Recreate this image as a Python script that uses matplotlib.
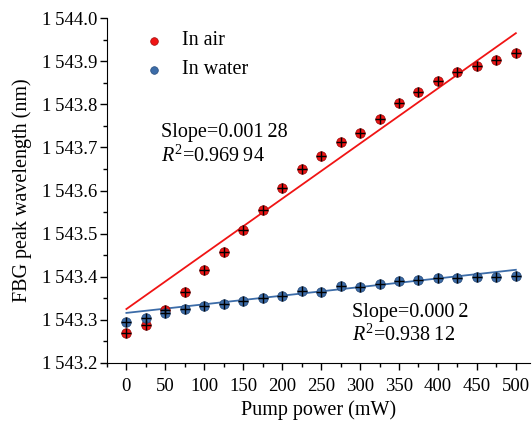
import numpy as np
import matplotlib
matplotlib.use("Agg")
import matplotlib.pyplot as plt
from matplotlib.ticker import MultipleLocator, FuncFormatter

plt.rcParams['font.family'] = ['Liberation Serif', 'DejaVu Serif']
plt.rcParams['mathtext.fontset'] = 'custom'
plt.rcParams['mathtext.it'] = 'Liberation Serif:italic'
plt.rcParams['mathtext.rm'] = 'Liberation Serif'

power = [0, 25, 50, 75, 100, 125, 150, 175, 200, 225, 250, 275, 300,
         325, 350, 375, 400, 425, 450, 475, 500]
air = [1543.269, 1543.287, 1543.323, 1543.364, 1543.416, 1543.458, 1543.508,
       1543.555, 1543.606, 1543.649, 1543.680, 1543.712, 1543.733, 1543.766,
       1543.802, 1543.828, 1543.855, 1543.874, 1543.889, 1543.903, 1543.918]
water = [1543.296, 1543.304, 1543.315, 1543.326, 1543.331, 1543.337, 1543.344,
         1543.350, 1543.356, 1543.367, 1543.365, 1543.378, 1543.377, 1543.383,
         1543.389, 1543.392, 1543.396, 1543.398, 1543.400, 1543.400, 1543.402]

# fitted lines as reported in the figure
air_slope, air_icpt = 0.00128, 1543.325
water_slope, water_icpt = 0.0002, 1543.316

red = '#f01414'
blue = '#3c6ca8'

fig = plt.figure(figsize=(5.32, 4.21), dpi=100)
ax = fig.add_axes([0.201, 0.138, 0.795, 0.819])

xfit = np.array([0, 500])
ax.plot(xfit, air_icpt + air_slope * xfit, color=red, lw=1.3, zorder=2)
ax.plot(xfit, water_icpt + water_slope * xfit, color=blue, lw=1.3, zorder=2)

ax.plot(power, air, 'o', color=red, ms=6.8, mec='#a00c0c', mew=0.6, zorder=3)
ax.plot(power, water, 'o', color=blue, ms=6.8, mec='#274c7c', mew=0.6, zorder=3)
ax.plot(power, air, '+', color='k', ms=6.5, mew=1.0, zorder=4)
ax.plot(power, water, '+', color='k', ms=6.5, mew=1.0, zorder=4)

# legend
ax.plot([35], [1543.948], 'o', color=red, ms=5.5, mec='#a00c0c', mew=0.5)
ax.plot([35], [1543.880], 'o', color=blue, ms=5.5, mec='#274c7c', mew=0.5)
ax.text(72, 1543.948, 'In air', fontsize=14.5, va='center')
ax.text(72, 1543.880, 'In water', fontsize=14.5, va='center')

ax.text(44, 1543.734, 'Slope=0.001\u200928', fontsize=14.5, va='center')
ax.text(44, 1543.680, '$R^2$=0.969\u200994', fontsize=14.5, va='center')
ax.text(289, 1543.318, 'Slope=0.000\u20092', fontsize=14.5, va='center')
ax.text(289, 1543.265, '$R^2$=0.938\u200912', fontsize=14.5, va='center')

ax.set_xlim(-25, 518)
ax.set_ylim(1543.2, 1544.0)
ax.xaxis.set_major_locator(MultipleLocator(50))
ax.xaxis.set_minor_locator(MultipleLocator(25))
ax.yaxis.set_major_locator(MultipleLocator(0.1))
ax.yaxis.set_minor_locator(MultipleLocator(0.05))
ax.yaxis.set_major_formatter(FuncFormatter(
    lambda v, p: '1\u2009' + '%.1f' % (v - 1000)))

ax.spines['top'].set_visible(False)
ax.spines['right'].set_visible(False)
ax.tick_params(axis='both', which='major', direction='out', length=5,
               labelsize=13.5, width=1)
ax.tick_params(axis='x', which='major', pad=6)
ax.tick_params(axis='y', which='major', pad=2)
ax.tick_params(axis='both', which='minor', direction='out', length=3, width=1)

ax.set_xlabel('Pump power (mW)', fontsize=14.5, labelpad=4)
ax.set_ylabel('FBG peak wavelength (nm)', fontsize=14.5, labelpad=7)

fig.savefig('out.png', dpi=100)
